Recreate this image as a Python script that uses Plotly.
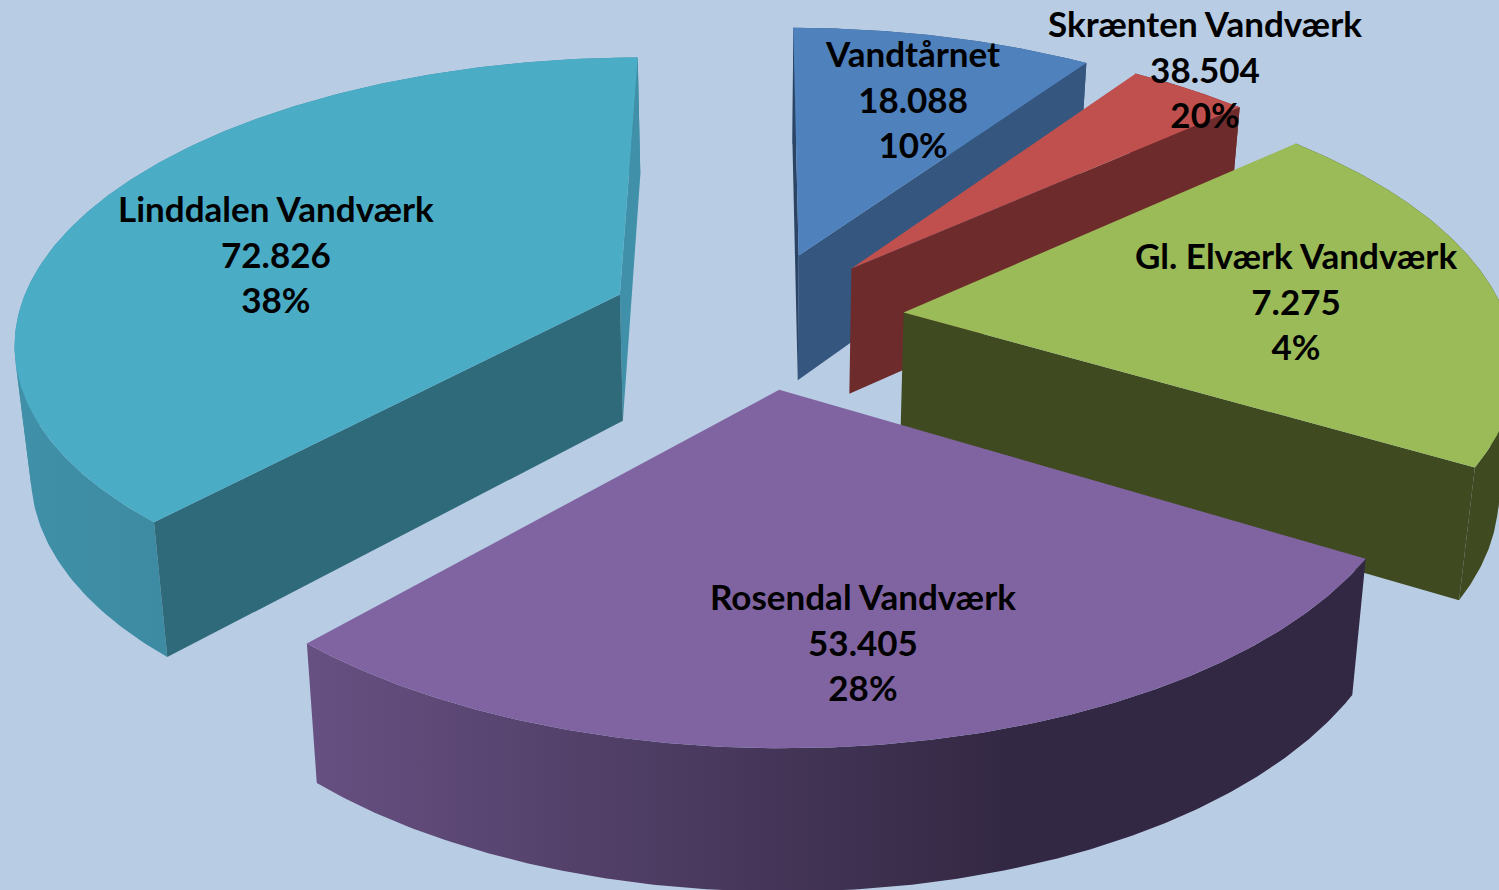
import numpy as np
import plotly.graph_objects as go

# Slices as drawn, clockwise from the far side
slice_values = [18088, 7275, 38504, 53405, 72826]
top_colors = ["#4F81BD", "#C0504D", "#9BBB59", "#8064A2", "#4BACC6"]
wall_left = ["#35567E", "#6E2B2C", "#3F4A20", "#675082", "#3F90A8"]
wall_right = ["#35567E", "#6E2B2C", "#3F4A20", "#332843", "#3D8BA3"]
grad_from = [None, None, None, 306, 15]
grad_to = [None, None, None, 1010, 165]
# radial faces that face the viewer (None = back-facing, not drawn)
start_face_colors = ["#2B4464", None, None, None, "#2F6A7B"]
end_face_colors = ["#35567E", "#6E2B2C", "#3F4A20", None, "#3F90A8"]

# Labels as printed in the chart
label_names = ["Vandtårnet", "Skrænten Vandværk", "Gl. Elværk Vandværk", "Rosendal Vandværk", "Linddalen Vandværk"]
label_values = ["18.088", "38.504", "7.275", "53.405", "72.826"]
label_pcts = ["10%", "20%", "4%", "28%", "38%"]
label_x = [912, 1205, 1296, 863, 276]
label_y = [98, 68, 300, 641, 253]

W, H = 1499, 890
BG = "#B8CCE4"
PULL = 0.246
CX, CY, AX, AY, PERSP = 756.5, 319.0, 603.0, 280.0, 0.152


def project(X, Y):
    w = 1 + PERSP * Y
    return CX + AX * X / w, CY - AY * Y / w


def lower(px, py):
    return CX + (px - CX) * 0.978, py + 115 + 0.038 * py


def poly(fig, xs, ys, color, grad=None):
    kw = dict(x=list(xs) + [xs[0]], y=list(ys) + [ys[0]], mode="lines", fill="toself",
              hoverinfo="skip", showlegend=False)
    if grad:
        kw["line"] = dict(width=0)
        kw["fillgradient"] = dict(type="horizontal", colorscale=[[0, grad[0]], [1, grad[1]]],
                                  start=grad[2], stop=grad[3])
    else:
        kw["line"] = dict(width=0)
        kw["fillcolor"] = color
    fig.add_trace(go.Scatter(**kw))


def wall(fig, rx, ry, brx, bry, color, grad):
    # split the strip where it folds over itself, so each piece fills solidly
    d = np.sign(np.diff(rx) * (bry - ry)[:-1] - np.diff(ry) * (brx - rx)[:-1])
    cuts = [0] + [k + 1 for k in range(len(d) - 1) if d[k] != d[k + 1]] + [len(rx) - 1]
    for s, e in zip(cuts[:-1], cuts[1:]):
        xs = np.concatenate([rx[s:e + 1], brx[s:e + 1][::-1]])
        ys = np.concatenate([ry[s:e + 1], bry[s:e + 1][::-1]])
        poly(fig, xs, ys, color, grad)


fig = go.Figure()
total = sum(slice_values)
edges = np.cumsum([0] + slice_values) / total * 2 * np.pi
# far slices first, nearest last
for i in [0, 1, 2, 4, 3]:
    a0, a1 = edges[i], edges[i + 1]
    mid = (a0 + a1) / 2
    ox, oy = PULL * np.sin(mid), PULL * np.cos(mid)
    th = np.linspace(a0, a1, 200)
    rx, ry = project(ox + np.sin(th), oy + np.cos(th))
    apx, apy = project(ox, oy)
    brx, bry = lower(rx, ry)
    bax, bay = lower(apx, apy)
    grad = (wall_left[i], wall_right[i], grad_from[i], grad_to[i]) if grad_from[i] is not None else None
    wall(fig, rx, ry, brx, bry, wall_left[i], grad)
    if end_face_colors[i]:
        poly(fig, [apx, rx[-1], brx[-1], bax], [apy, ry[-1], bry[-1], bay], end_face_colors[i])
    if start_face_colors[i]:
        poly(fig, [apx, rx[0], brx[0], bax], [apy, ry[0], bry[0], bay], start_face_colors[i])
    poly(fig, np.concatenate([[apx], rx]), np.concatenate([[apy], ry]), top_colors[i])

for n, v, p, x, y in zip(label_names, label_values, label_pcts, label_x, label_y):
    fig.add_annotation(x=x, y=y, xref="x", yref="y", showarrow=False, align="center",
                       text=f"<b>{n}<br>{v}<br>{p}</b>",
                       font=dict(family="Lato, Carlito, sans-serif", size=35, color="#000000"))

fig.update_layout(width=W, height=H, margin=dict(l=0, r=0, t=0, b=0),
                  paper_bgcolor=BG, plot_bgcolor=BG, showlegend=False,
                  xaxis=dict(range=[0, W], visible=False, fixedrange=True),
                  yaxis=dict(range=[H, 0], visible=False, fixedrange=True))
fig.write_html("out.html", config={"displayModeBar": False},
               post_script=f"document.body.style.margin='0';document.body.style.background='{BG}';document.body.style.overflow='hidden';")
